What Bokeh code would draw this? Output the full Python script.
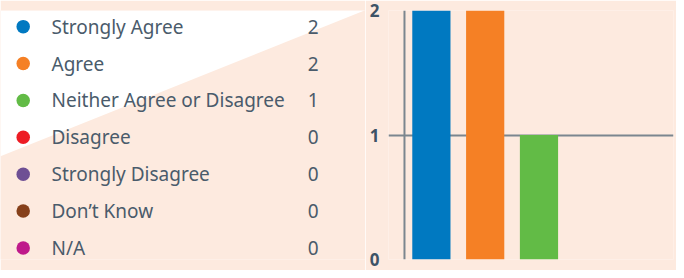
from bokeh.plotting import figure
from bokeh.layouts import row
from bokeh.models import Range1d, Span, FixedTicker, ColumnDataSource
from bokeh.core.properties import value
from bokeh.embed import file_html
from bokeh.resources import INLINE

# ---- data ----
categories = ["Strongly Agree", "Agree", "Neither Agree or Disagree", "Disagree",
              "Strongly Disagree", "Don\u2019t Know", "N/A"]
counts = [2, 2, 1, 0, 0, 0, 0]
colors = ["#0079C1", "#F58025", "#62BB46", "#ED1C24", "#6E4F94", "#86401A", "#BF1A8B"]
chart_slots = 5            # category slots shown in the bar chart
y_ticks = [0, 1, 2]

PEACH = "#FDEADF"
TEXT = "#4A5B6B"
AXIS_TEXT = "#3D5366"
LINE = "#7B868F"

# ---- left panel: background diagonal + legend (pixel-like coordinates) ----
LW = 365
left = figure(width=LW, height=270, output_backend="svg", toolbar_location=None,
              x_range=Range1d(0, LW), y_range=Range1d(270, 0),
              min_border=0, min_border_left=0, min_border_right=0,
              min_border_top=0, min_border_bottom=0)
left.axis.visible = False
left.grid.visible = False
left.outline_line_color = None
left.background_fill_color = PEACH
left.border_fill_color = PEACH

left.patch(x=[0, 364, 0], y=[0, 0, 158], fill_color="white", line_color=None)

row_y = [17.5 + 40.0 * i for i in range(len(categories))]
src = ColumnDataSource(dict(
    y=row_y, name=categories, cnt=[str(c) for c in counts], color=colors,
    dx=[22.7] * len(categories), tx=[51] * len(categories), cx=[318] * len(categories)))
left.scatter(x="dx", y="y", size=13.5, fill_color="color", line_color=None, source=src)
left.text(x="tx", y="y", text="name", source=src, text_font=value("Noto Sans"),
          text_font_size="19px", text_color=TEXT, text_baseline="middle", text_align="left")
left.text(x="cx", y="y", text="cnt", source=src, text_font=value("Noto Sans"),
          text_font_size="19px", text_color=TEXT, text_baseline="middle", text_align="right")

# ---- right panel: bar chart ----
chart = figure(width=676 - LW, height=270, output_backend="svg", toolbar_location=None,
               x_range=Range1d(-0.297, chart_slots), y_range=Range1d(0, 2),
               min_border_left=23, min_border_right=3, min_border_top=10, min_border_bottom=11)
chart.background_fill_color = PEACH
chart.border_fill_color = PEACH
chart.outline_line_color = None
chart.xaxis.visible = False
chart.xgrid.visible = False

chart.yaxis.ticker = FixedTicker(ticks=y_ticks)
chart.yaxis.axis_line_color = None
chart.yaxis.major_tick_line_color = None
chart.yaxis.minor_tick_line_color = None
chart.yaxis.major_tick_in = 0
chart.yaxis.major_tick_out = 0
chart.yaxis.major_label_standoff = 9
chart.yaxis.major_label_text_font = "Noto Sans"
chart.yaxis.major_label_text_font_style = "bold"
chart.yaxis.major_label_text_font_size = "17px"
chart.yaxis.major_label_text_color = AXIS_TEXT

chart.ygrid.ticker = FixedTicker(ticks=y_ticks[:-1])
chart.ygrid.grid_line_color = LINE
chart.ygrid.grid_line_width = 2

bsrc = ColumnDataSource(dict(
    x=[i + 0.5 for i in range(chart_slots)],
    top=counts[:chart_slots],
    color=colors[:chart_slots]))
chart.vbar(x="x", top="top", bottom=0, width=0.71, fill_color="color", line_color=None, source=bsrc)

chart.add_layout(Span(location=0, dimension="height", line_color=LINE, line_width=2))

layout = row(left, chart)
open("out.html", "w").write(file_html(layout, INLINE))
